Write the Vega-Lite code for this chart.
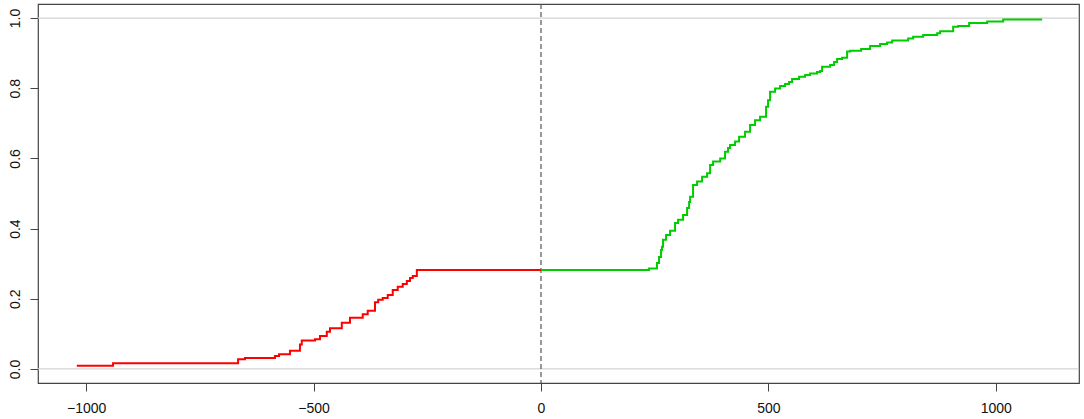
{
  "$schema": "https://vega.github.io/schema/vega-lite/v6.json",
  "width": 1041,
  "height": 379,
  "autosize": {"type": "none"},
  "padding": {"left": 38, "top": 4, "right": 5, "bottom": 36},
  "background": "white",
  "config": {
    "view": {"stroke": "#444444", "strokeWidth": 1.2},
    "font": "Liberation Sans",
    "axis": {"labelFont": "Liberation Sans", "labelFontSize": 14, "labelColor": "#111111", "tickColor": "#444444", "tickSize": 8, "domain": false, "grid": false, "title": null}
  },
  "datasets": {
    "ecdf": [
      {"x": -1020.7, "y": 0.009, "series": "neg"},
      {"x": -941, "y": 0.016, "series": "neg"},
      {"x": -666, "y": 0.028, "series": "neg"},
      {"x": -651, "y": 0.031, "series": "neg"},
      {"x": -585, "y": 0.037, "series": "neg"},
      {"x": -576, "y": 0.042, "series": "neg"},
      {"x": -552, "y": 0.052, "series": "neg"},
      {"x": -530, "y": 0.07, "series": "neg"},
      {"x": -526, "y": 0.081, "series": "neg"},
      {"x": -497, "y": 0.085, "series": "neg"},
      {"x": -486, "y": 0.094, "series": "neg"},
      {"x": -471, "y": 0.106, "series": "neg"},
      {"x": -464, "y": 0.116, "series": "neg"},
      {"x": -438, "y": 0.132, "series": "neg"},
      {"x": -420, "y": 0.146, "series": "neg"},
      {"x": -392, "y": 0.156, "series": "neg"},
      {"x": -381, "y": 0.166, "series": "neg"},
      {"x": -365, "y": 0.19, "series": "neg"},
      {"x": -358, "y": 0.197, "series": "neg"},
      {"x": -348, "y": 0.202, "series": "neg"},
      {"x": -337, "y": 0.211, "series": "neg"},
      {"x": -326, "y": 0.225, "series": "neg"},
      {"x": -315, "y": 0.234, "series": "neg"},
      {"x": -304, "y": 0.242, "series": "neg"},
      {"x": -295, "y": 0.251, "series": "neg"},
      {"x": -288, "y": 0.259, "series": "neg"},
      {"x": -282, "y": 0.265, "series": "neg"},
      {"x": -273, "y": 0.282, "series": "neg"},
      {"x": 0, "y": 0.282, "series": "neg"},
      {"x": 0, "y": 0.282, "series": "pos"},
      {"x": 237.6, "y": 0.286, "series": "pos"},
      {"x": 255, "y": 0.302, "series": "pos"},
      {"x": 259.6, "y": 0.319, "series": "pos"},
      {"x": 264, "y": 0.339, "series": "pos"},
      {"x": 266, "y": 0.348, "series": "pos"},
      {"x": 268.4, "y": 0.368, "series": "pos"},
      {"x": 275, "y": 0.382, "series": "pos"},
      {"x": 283.8, "y": 0.394, "series": "pos"},
      {"x": 294.8, "y": 0.416, "series": "pos"},
      {"x": 301.4, "y": 0.425, "series": "pos"},
      {"x": 312.4, "y": 0.439, "series": "pos"},
      {"x": 321.2, "y": 0.459, "series": "pos"},
      {"x": 325.6, "y": 0.476, "series": "pos"},
      {"x": 327.8, "y": 0.491, "series": "pos"},
      {"x": 334.4, "y": 0.524, "series": "pos"},
      {"x": 343.2, "y": 0.534, "series": "pos"},
      {"x": 354.2, "y": 0.548, "series": "pos"},
      {"x": 365.2, "y": 0.558, "series": "pos"},
      {"x": 371.8, "y": 0.581, "series": "pos"},
      {"x": 378.4, "y": 0.591, "series": "pos"},
      {"x": 394, "y": 0.6, "series": "pos"},
      {"x": 404.7, "y": 0.619, "series": "pos"},
      {"x": 411.3, "y": 0.63, "series": "pos"},
      {"x": 415.7, "y": 0.638, "series": "pos"},
      {"x": 426.7, "y": 0.648, "series": "pos"},
      {"x": 435.6, "y": 0.662, "series": "pos"},
      {"x": 448.7, "y": 0.676, "series": "pos"},
      {"x": 459.7, "y": 0.695, "series": "pos"},
      {"x": 470.7, "y": 0.709, "series": "pos"},
      {"x": 481.7, "y": 0.719, "series": "pos"},
      {"x": 494.9, "y": 0.747, "series": "pos"},
      {"x": 499.3, "y": 0.766, "series": "pos"},
      {"x": 503.7, "y": 0.79, "series": "pos"},
      {"x": 514.7, "y": 0.799, "series": "pos"},
      {"x": 525.7, "y": 0.806, "series": "pos"},
      {"x": 536.7, "y": 0.812, "series": "pos"},
      {"x": 545.5, "y": 0.818, "series": "pos"},
      {"x": 552.1, "y": 0.826, "series": "pos"},
      {"x": 567.5, "y": 0.833, "series": "pos"},
      {"x": 580.7, "y": 0.838, "series": "pos"},
      {"x": 591.7, "y": 0.842, "series": "pos"},
      {"x": 607, "y": 0.846, "series": "pos"},
      {"x": 613.7, "y": 0.849, "series": "pos"},
      {"x": 618.1, "y": 0.861, "series": "pos"},
      {"x": 635.7, "y": 0.866, "series": "pos"},
      {"x": 644.5, "y": 0.875, "series": "pos"},
      {"x": 651.1, "y": 0.883, "series": "pos"},
      {"x": 662.1, "y": 0.887, "series": "pos"},
      {"x": 673.1, "y": 0.905, "series": "pos"},
      {"x": 679.7, "y": 0.907, "series": "pos"},
      {"x": 703.9, "y": 0.912, "series": "pos"},
      {"x": 723.7, "y": 0.92, "series": "pos"},
      {"x": 745.7, "y": 0.926, "series": "pos"},
      {"x": 761.1, "y": 0.93, "series": "pos"},
      {"x": 772.1, "y": 0.936, "series": "pos"},
      {"x": 807.3, "y": 0.942, "series": "pos"},
      {"x": 818.3, "y": 0.947, "series": "pos"},
      {"x": 840.3, "y": 0.952, "series": "pos"},
      {"x": 871.1, "y": 0.957, "series": "pos"},
      {"x": 877.7, "y": 0.962, "series": "pos"},
      {"x": 906.3, "y": 0.975, "series": "pos"},
      {"x": 917.3, "y": 0.977, "series": "pos"},
      {"x": 941.5, "y": 0.986, "series": "pos"},
      {"x": 981.1, "y": 0.99, "series": "pos"},
      {"x": 1016.3, "y": 0.996, "series": "pos"},
      {"x": 1102, "y": 0.996, "series": "pos"}
    ],
    "hlines": [{"y": 0}, {"y": 1}],
    "vline": [{"x": 0}]
  },
  "layer": [
    {
      "data": {"name": "hlines"},
      "mark": {"type": "rule", "color": "#d3d3d3", "strokeWidth": 1.2},
      "encoding": {
        "y": {"field": "y", "type": "quantitative", "scale": {"domain": [-0.04, 1.04], "nice": false, "zero": false},
          "axis": {"values": [0, 0.2, 0.4, 0.6, 0.8, 1.0], "format": ".1f", "labelAngle": 270, "labelAlign": "center", "labelBaseline": "bottom", "labelPadding": 8}}
      }
    },
    {
      "data": {"name": "vline"},
      "mark": {"type": "rule", "color": "#555555", "strokeWidth": 1.2, "strokeDash": [5, 3]},
      "encoding": {
        "x": {"field": "x", "type": "quantitative", "scale": {"domain": [-1106, 1183], "nice": false, "zero": false},
          "axis": {"values": [-1000, -500, 0, 500, 1000], "format": "d", "labelPadding": 10}}
      }
    },
    {
      "data": {"name": "ecdf"},
      "mark": {"type": "line", "interpolate": "step-after", "strokeWidth": 2},
      "encoding": {
        "x": {"field": "x", "type": "quantitative"},
        "y": {"field": "y", "type": "quantitative"},
        "color": {"field": "series", "type": "nominal", "scale": {"domain": ["neg", "pos"], "range": ["#ff0000", "#00cd00"]}, "legend": null},
        "order": {"field": "x", "type": "quantitative"}
      }
    }
  ]
}
